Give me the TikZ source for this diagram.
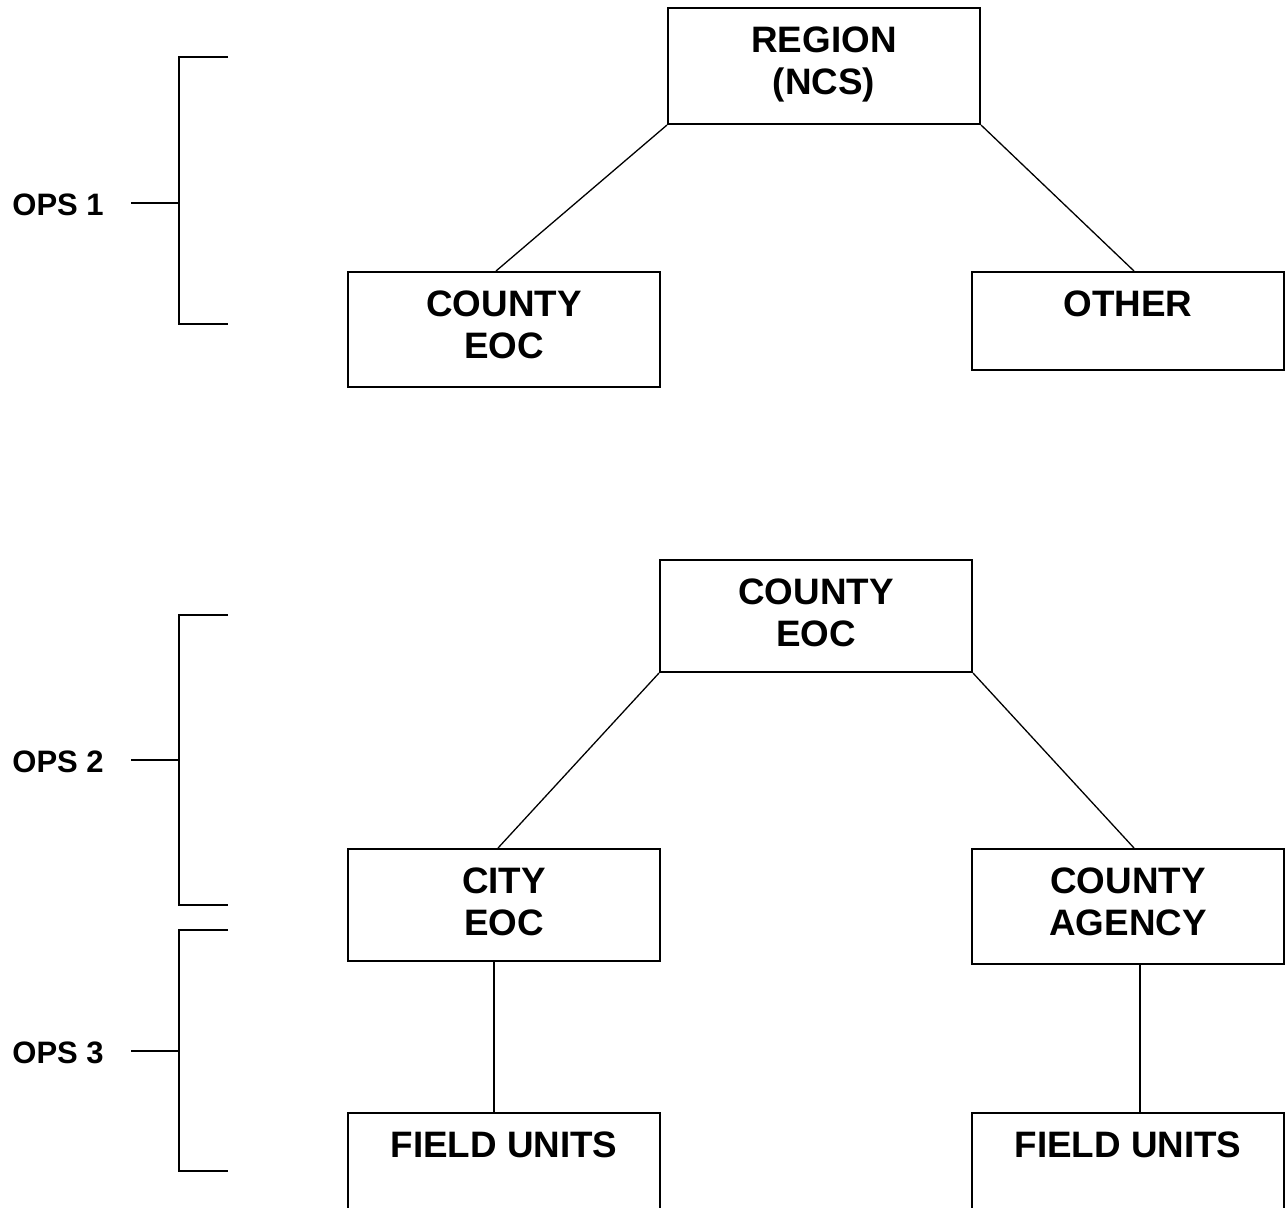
\documentclass[tikz,border=0pt]{standalone}
\usepackage{fontspec}
\setmainfont{Liberation Sans}

\newcommand{\BW}{156pt}
\newcommand{\TX}{9.8pt}

\tikzset{
    box/.style={draw, line width=1pt, minimum width=\BW, inner sep=0pt, anchor=north west},
    lbl/.style={font=\bfseries\fontsize{18.4}{21}\selectfont, align=center, anchor=north, inner sep=0pt},
    ops/.style={font=\bfseries\fontsize{15.5}{18}\selectfont, anchor=west, inner sep=0pt},
    link/.style={line width=0.65pt},
    brk/.style={line width=1pt}
}

\begin{document}
\begin{tikzpicture}[x=0.5pt,y=-0.5pt]
        \clip (0,0) rectangle (1288,1207);

        % OPS 1
        \node[box, minimum height=58pt] (region) at (667,7) {};
        \node[box, minimum height=57.5pt] (cntyA) at (347,271) {};
        \node[box, minimum height=49pt] (other) at (971,271) {};

        % OPS 2 / 3
        \node[box, minimum height=56pt] (cntyB) at (659,559) {};
        \node[box, minimum height=56pt] (city) at (347,848) {};
        \node[box, minimum height=57.5pt] (agency) at (971,848) {};
        \node[box, minimum height=80pt] (fieldA) at (347,1112) {};
        \node[box, minimum height=80pt] (fieldB) at (971,1112) {};

        \node[lbl] (regionT) at ([yshift=-\TX]region.north) {REGION\\(NCS)};
        \node[lbl] (cntyAT) at ([yshift=-\TX]cntyA.north) {COUNTY\\EOC};
        \node[lbl] (otherT) at ([yshift=-\TX]other.north) {OTHER};
        \node[lbl] (cntyBT) at ([yshift=-\TX]cntyB.north) {COUNTY\\EOC};
        \node[lbl] (cityT) at ([yshift=-\TX]city.north) {CITY\\EOC};
        \node[lbl] (agencyT) at ([yshift=-\TX]agency.north) {COUNTY\\AGENCY};
        \node[lbl] (fieldAT) at ([yshift=-\TX]fieldA.north) {FIELD UNITS};
        \node[lbl] (fieldBT) at ([yshift=-\TX]fieldB.north) {FIELD UNITS};

        \draw[link] (region.south west) -- ([xshift=-4pt]cntyA.north);
        \draw[link] (region.south east) -- ([xshift=3pt]other.north);
        \draw[link] (cntyB.south west) -- ([xshift=-3pt]city.north);
        \draw[link] (cntyB.south east) -- ([xshift=3pt]agency.north);
        \draw[link] ([xshift=-5pt]city.south) -- ([xshift=-5pt]fieldA.north);
        \draw[link] ([xshift=6pt]agency.south) -- ([xshift=6pt]fieldB.north);

        % brackets
        \foreach \T/\B/\M/\N in {57/324/203/1, 615/905/760/2, 930/1171/1051/3} {
            \node[ops] (ops\N) at (12,\M+2) {OPS \N};
            \draw[brk] (228,\T) -- (179,\T) -- (179,\B) -- (228,\B);
            \draw[brk] (131,\M) -- (179,\M);
        }
\end{tikzpicture}
\end{document}
